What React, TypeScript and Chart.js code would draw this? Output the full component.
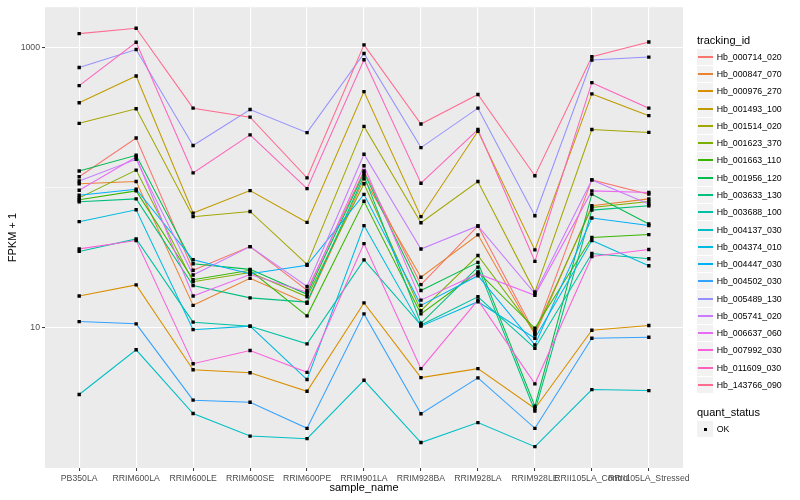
import React, { useEffect, useRef } from "react";
import { Chart, registerables } from "chart.js";

Chart.register(...registerables);

// ---- data ----
const categories = [
  "PB350LA", "RRIM600LA", "RRIM600LE", "RRIM600SE", "RRIM600PE", "RRIM901LA",
  "RRIM928BA", "RRIM928LA", "RRIM928LE", "RRII105LA_Control", "RRII105LA_Stressed",
];

const Hb_000714_020 = [120, 227, 25.8, 38.1, 18.6, 132, 20.4, 53.5, 9.17, 114, 90.2];
const Hb_000847_070 = [107, 111, 14.5, 22.6, 15.0, 116, 23.0, 46.2, 8.92, 74.5, 83.5];
const Hb_000976_270 = [16.9, 20.3, 5.03, 4.79, 3.53, 15.1, 4.42, 5.12, 2.66, 9.63, 10.4];
const Hb_001493_100 = [405, 630, 66.1, 95.6, 56.7, 487, 62.3, 254, 36.1, 469, 328];
const Hb_001514_020 = [289, 367, 62.3, 67.9, 28.4, 275, 56.4, 111, 18.1, 261, 249];
const Hb_001623_370 = [84.9, 134, 21.4, 24.9, 16.7, 107, 13.3, 32.9, 9.41, 72.4, 79.9];
const Hb_001663_110 = [82.2, 95.2, 22.1, 25.8, 12.2, 80.2, 12.6, 25.1, 9.95, 44.2, 46.4];
const Hb_001956_120 = [132, 171, 28.7, 26.2, 17.4, 128, 18.5, 29.4, 2.76, 90.2, 55.3];
const Hb_003633_130 = [79.5, 83.5, 20.1, 16.4, 15.3, 122, 10.8, 27.2, 2.55, 69.4, 74.5];
const Hb_003688_100 = [35.2, 43.2, 11.0, 10.3, 7.7, 30.6, 10.5, 16.7, 7.17, 34.0, 31.2];
const Hb_004137_030 = [3.35, 6.98, 2.45, 1.69, 1.62, 4.23, 1.52, 2.11, 1.42, 3.63, 3.57];
const Hb_004374_010 = [57.4, 69.8, 9.72, 10.3, 4.28, 53.8, 10.3, 15.4, 8.45, 42.1, 27.8];
const Hb_004447_030 = [88.7, 97.9, 30.7, 24.4, 28.0, 89.9, 14.5, 23.6, 7.57, 60.9, 53.8];
const Hb_004502_030 = [11.1, 10.7, 3.05, 2.95, 1.92, 12.6, 2.44, 4.4, 1.92, 8.45, 8.59];
const Hb_005489_130 = [724, 972, 201, 363, 248, 911, 194, 371, 63.3, 818, 859];
const Hb_005741_020 = [112, 160, 23.9, 38.1, 19.8, 174, 36.6, 53.5, 17.6, 114, 76.6];
const Hb_006637_060 = [96.2, 166, 16.9, 24.1, 18.0, 144, 15.8, 24.4, 17.1, 95.2, 92.6];
const Hb_007992_030 = [36.7, 42.1, 5.55, 6.9, 4.82, 40.0, 5.12, 15.8, 3.99, 32.4, 36.3];
const Hb_011609_030 = [537, 1097, 128, 239, 98.8, 822, 108, 261, 29.9, 564, 371];
const Hb_143766_090 = [1263, 1379, 371, 320, 118, 1050, 286, 464, 122, 863, 1102];

const trackingIds = [
  "Hb_000714_020", "Hb_000847_070", "Hb_000976_270", "Hb_001493_100", "Hb_001514_020",
  "Hb_001623_370", "Hb_001663_110", "Hb_001956_120", "Hb_003633_130", "Hb_003688_100",
  "Hb_004137_030", "Hb_004374_010", "Hb_004447_030", "Hb_004502_030", "Hb_005489_130",
  "Hb_005741_020", "Hb_006637_060", "Hb_007992_030", "Hb_011609_030", "Hb_143766_090",
];
const seriesValues = [
  Hb_000714_020, Hb_000847_070, Hb_000976_270, Hb_001493_100, Hb_001514_020,
  Hb_001623_370, Hb_001663_110, Hb_001956_120, Hb_003633_130, Hb_003688_100,
  Hb_004137_030, Hb_004374_010, Hb_004447_030, Hb_004502_030, Hb_005489_130,
  Hb_005741_020, Hb_006637_060, Hb_007992_030, Hb_011609_030, Hb_143766_090,
];
const quantStatus = ["OK"];
const yMajorTicks = [10, 1000];
const yMinorTicks = [100];
const yRange = [1, 1950];

// ---- styles ----
const palette = [
  "#F8766D", "#EA8331", "#D89000", "#C09B00", "#A3A500", "#7CAE00", "#39B600",
  "#00BB4E", "#00BF7D", "#00C1A3", "#00BFC4", "#00BAE0", "#00B0F6", "#35A2FF",
  "#9590FF", "#C77CFF", "#E76BF3", "#FA62DB", "#FF62BC", "#FF6C91",
];
const FONT = "'Liberation Sans', Arial, Helvetica, sans-serif";

const panelBg = {
  id: "panelBg",
  beforeDraw(chart: any) {
    const { ctx, chartArea: a } = chart;
    ctx.save();
    ctx.fillStyle = "#FFFFFF";
    ctx.fillRect(0, 0, chart.width, chart.height);
    ctx.fillStyle = "#EBEBEB";
    ctx.fillRect(a.left, a.top, a.right - a.left, a.bottom - a.top);
    ctx.restore();
  },
};

export default function App() {
  const ref = useRef<HTMLCanvasElement>(null);

  useEffect(() => {
    const canvas = ref.current;
    if (!canvas) return;
    const n = seriesValues.length;
    const lineSets = seriesValues.map((vals, i) => ({
      label: trackingIds[i],
      data: vals.map((v, j) => ({ x: j, y: v })),
      borderColor: palette[i],
      backgroundColor: palette[i],
      borderWidth: 1.05,
      pointRadius: 0,
      tension: 0,
      fill: false,
      order: n - i + 1,
    }));
    const pointSets = seriesValues.map((vals, i) => ({
      label: trackingIds[i] + " points",
      data: vals.map((v, j) => ({ x: j, y: v })),
      showLine: false,
      pointRadius: 2.4,
      pointStyle: "rect",
      pointBackgroundColor: "#000000",
      pointBorderWidth: 0,
      borderColor: "#000000",
      order: 0,
    }));
    const isMajor = (ctx: any) => ctx.tick && yMajorTicks.includes(ctx.tick.value);
    const chart = new Chart(canvas, {
      type: "line",
      data: { datasets: [...lineSets, ...pointSets] as any },
      options: {
        animation: false,
        responsive: false,
        events: [],
        layout: { padding: { left: 0, right: 117, top: 5, bottom: 0 } },
        plugins: { legend: { display: false }, tooltip: { enabled: false }, title: { display: false } },
        scales: {
          x: {
            type: "linear",
            bounds: "data",
            min: -0.6,
            max: categories.length - 1 + 0.6,
            afterBuildTicks: (s: any) => {
              s.ticks = categories.map((_, i) => ({ value: i }));
            },
            afterFit: (s: any) => {
              s.height = 32;
            },
            ticks: {
              autoSkip: false,
              maxRotation: 0,
              minRotation: 0,
              padding: 2,
              color: "#4D4D4D",
              font: { family: FONT, size: 8.7 },
              callback: (v: any) => categories[Math.round(Number(v))] ?? "",
            },
            grid: {
              color: "#FFFFFF",
              lineWidth: 1.1,
              tickColor: "#333333",
              tickLength: 3,
              tickWidth: 1,
              drawTicks: true,
            },
            border: { display: false },
            title: {
              display: true,
              text: "sample_name",
              color: "#000000",
              font: { family: FONT, size: 11 },
              padding: { top: 0, bottom: 5 },
            },
          },
          y: {
            type: "logarithmic",
            bounds: "data",
            min: yRange[0],
            max: yRange[1],
            afterBuildTicks: (s: any) => {
              s.ticks = [...yMajorTicks, ...yMinorTicks].sort((a, b) => a - b).map((v) => ({ value: v }));
            },
            afterFit: (s: any) => {
              s.width = 45;
            },
            ticks: {
              autoSkip: false,
              padding: 2,
              color: "#4D4D4D",
              font: { family: FONT, size: 8.7 },
              callback: (v: any) => (yMajorTicks.includes(Number(v)) ? String(v) : ""),
            },
            grid: {
              color: "#FFFFFF",
              lineWidth: (ctx: any) => (isMajor(ctx) ? 1.1 : 0.55),
              tickColor: (ctx: any) => (isMajor(ctx) ? "#333333" : "rgba(0,0,0,0)"),
              tickLength: 3,
              tickWidth: 1,
              drawTicks: true,
            },
            border: { display: false },
            title: {
              display: true,
              text: "FPKM + 1",
              color: "#000000",
              font: { family: FONT, size: 11 },
              padding: { top: 6.4, bottom: 0 },
            },
          },
        },
      } as any,
      plugins: [panelBg],
    });
    return () => chart.destroy();
  }, []);

  const keyStep = 17.28;
  const firstKeyCenter = 56.7;
  const legendLeft = 697;
  const textLeft = 716.7;

  return (
    <div
      style={{
        position: "fixed",
        left: 0,
        top: 0,
        width: 800,
        height: 500,
        background: "#FFFFFF",
        fontFamily: FONT,
        overflow: "hidden",
      }}
    >
      <canvas ref={ref} width={800} height={500} style={{ position: "absolute", left: 0, top: 0 }} />
      <div
        style={{
          position: "absolute",
          left: legendLeft,
          top: 40 - 8,
          height: 16,
          lineHeight: "16px",
          fontSize: 11,
          color: "#000",
          whiteSpace: "nowrap",
        }}
      >
        tracking_id
      </div>
      {trackingIds.map((id, i) => {
        const c = firstKeyCenter + i * keyStep;
        return (
          <React.Fragment key={id}>
            <div
              style={{
                position: "absolute",
                left: legendLeft,
                top: c - keyStep / 2 + 0.5,
                width: 16,
                height: keyStep - 1,
                background: "#F2F2F2",
              }}
            />
            <div
              style={{
                position: "absolute",
                left: legendLeft + 1,
                top: Math.round(c) - 1,
                width: 15,
                height: 2,
                background: palette[i],
              }}
            />
            <div
              style={{
                position: "absolute",
                left: textLeft,
                top: c - 8,
                height: 16,
                lineHeight: "16px",
                fontSize: 8.8,
                color: "#000",
                whiteSpace: "nowrap",
              }}
            >
              {id}
            </div>
          </React.Fragment>
        );
      })}
      <div
        style={{
          position: "absolute",
          left: legendLeft,
          top: 412.3 - 8,
          height: 16,
          lineHeight: "16px",
          fontSize: 11,
          color: "#000",
          whiteSpace: "nowrap",
        }}
      >
        quant_status
      </div>
      {quantStatus.map((s, i) => {
        const c = 429 + i * keyStep;
        return (
          <React.Fragment key={s}>
            <div
              style={{
                position: "absolute",
                left: legendLeft,
                top: c - keyStep / 2 + 0.5,
                width: 16,
                height: keyStep - 1,
                background: "#F2F2F2",
              }}
            />
            <div
              style={{
                position: "absolute",
                left: legendLeft + 6.5,
                top: c - 1.5,
                width: 3,
                height: 3,
                background: "#000",
              }}
            />
            <div
              style={{
                position: "absolute",
                left: textLeft,
                top: c - 8,
                height: 16,
                lineHeight: "16px",
                fontSize: 8.8,
                color: "#000",
                whiteSpace: "nowrap",
              }}
            >
              {s}
            </div>
          </React.Fragment>
        );
      })}
    </div>
  );
}
